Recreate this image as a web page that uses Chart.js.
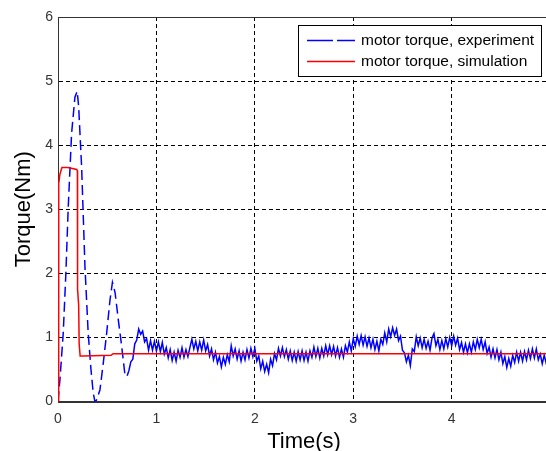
<!DOCTYPE html>
<html>
<head>
<meta charset="utf-8">
<script src="https://cdn.jsdelivr.net/npm/chart.js@4.4.0/dist/chart.umd.min.js"></script>
<style>
  html, body { margin: 0; padding: 0; background: #fff; overflow: hidden; width: 546px; height: 451px; }
  #wrap { width: 563px; height: 451px; }
  canvas { display: block; }
</style>
</head>
<body>
<div id="wrap"><canvas id="c" width="563" height="451"></canvas></div>
<script>
// ---- data ----
const xTicks = [0, 1, 2, 3, 4, 5];
const yTicks = [0, 1, 2, 3, 4, 5, 6];

// experiment: transient part (dashed)
const expTimeA = [0, 0.02, 0.053, 0.08, 0.104, 0.138, 0.172, 0.195, 0.21, 0.24, 0.274, 0.307, 0.335, 0.358, 0.375, 0.39, 0.426, 0.46, 0.494, 0.528, 0.553, 0.58, 0.613, 0.64, 0.663, 0.68, 0.70, 0.72];
const expTorqueA = [0, 0.35, 1.06, 2.0, 3.03, 4.18, 4.75, 4.84, 4.6, 3.66, 2.1, 1.06, 0.5, 0.13, 0, 0.02, 0.18, 0.6, 1.06, 1.58, 1.86, 1.7, 1.27, 0.95, 0.65, 0.42, 0.39, 0.48];

// experiment: noisy steady part, sampled every 0.02 s from t = 0.72 s
const expStartB = 0.72;
const expStepB = 0.02;
const expTorqueB = [
  0.48, 0.62, 0.66, 0.90, 0.96, 1.13, 1.05, 1.10, 0.93, 0.98,
  0.80, 0.95, 0.80, 0.94, 0.79, 0.93, 0.78, 0.92, 0.74, 0.84,
  0.68, 0.81, 0.64, 0.77, 0.63, 0.80, 0.69, 0.84, 0.69, 0.81,
  0.70, 0.84, 0.97, 0.82, 0.94, 0.79, 0.93, 0.80, 0.96, 0.79,
  0.89, 0.71, 0.82, 0.65, 0.77, 0.60, 0.70, 0.54, 0.69, 0.58,
  0.73, 0.62, 0.87, 0.71, 0.82, 0.66, 0.79, 0.63, 0.77, 0.65,
  0.81, 0.68, 0.83, 0.70, 0.83, 0.63, 0.71, 0.51, 0.63, 0.47,
  0.58, 0.45, 0.66, 0.56, 0.75, 0.65, 0.83, 0.71, 0.84, 0.70,
  0.81, 0.66, 0.79, 0.64, 0.77, 0.63, 0.78, 0.65, 0.79, 0.64,
  0.77, 0.63, 0.79, 0.69, 0.85, 0.70, 0.83, 0.68, 0.83, 0.71,
  0.87, 0.73, 0.87, 0.73, 0.86, 0.71, 0.84, 0.69, 0.82, 0.69,
  0.87, 0.77, 0.93, 0.79, 0.98, 0.86, 1.02, 0.89, 1.03, 0.88,
  1.01, 0.86, 0.99, 0.84, 0.97, 0.81, 0.94, 0.79, 0.97, 0.89,
  1.07, 0.93, 1.13, 1.01, 1.15, 1.03, 1.13, 0.95, 1.02, 0.80,
  0.76, 0.62, 0.72, 0.56, 0.82, 0.78, 1.01, 0.87, 0.99, 0.84,
  0.97, 0.83, 0.94, 0.80, 0.99, 1.06, 0.87, 0.97, 0.81, 0.95,
  0.82, 0.98, 0.85, 1.00, 0.87, 1.02, 0.88, 0.99, 0.81, 0.92,
  0.77, 0.90, 0.76, 0.90, 0.77, 0.93, 0.81, 0.97, 0.84, 0.97,
  0.81, 0.93, 0.75, 0.85, 0.69, 0.82, 0.68, 0.81, 0.65, 0.77,
  0.59, 0.70, 0.53, 0.67, 0.55, 0.72, 0.61, 0.77, 0.63, 0.77,
  0.63, 0.78, 0.65, 0.80, 0.67, 0.82, 0.68, 0.82, 0.65, 0.74,
  0.59, 0.72, 0.60, 0.73, 0.62
];

// simulation
const simTime = [0, 0.004, 0.01, 0.02, 0.04, 0.10, 0.19, 0.197, 0.199, 0.21, 0.215, 0.225, 0.26, 0.54, 0.56, 5.0];
const simTorque = [0, 3.0, 3.4, 3.55, 3.65, 3.65, 3.62, 3.60, 1.75, 1.5, 0.9, 0.71, 0.71, 0.72, 0.745, 0.745];

const labels = ['motor torque, experiment', 'motor torque, simulation'];

// ---- build datasets ----
const ptsA = expTimeA.map((t, i) => ({ x: t, y: expTorqueA[i] }));
const ptsB = expTorqueB.map((v, i) => ({ x: +(expStartB + i * expStepB).toFixed(3), y: v }));
const ptsSim = simTime.map((t, i) => ({ x: t, y: simTorque[i] }));

const BLUE = '#0000ff';
const RED = '#ff0000';
const FONT = '"Liberation Sans", Arial, sans-serif';

const framePlugin = {
  id: 'frame',
  beforeDatasetsDraw(chart) {
    const { ctx, chartArea: a } = chart;
    ctx.save();
    ctx.strokeStyle = '#333';
    ctx.lineWidth = 1;
    ctx.setLineDash([]);
    ctx.strokeRect(Math.round(a.left) + 0.5, Math.round(a.top) + 0.5, Math.round(a.right - a.left), Math.round(a.bottom - a.top));
    ctx.restore();
  },
  afterDraw(chart) {
    const { ctx } = chart;
    ctx.save();
    const lx = 298.5, ly = 25.5, lw = 243, lh = 51;
    ctx.fillStyle = '#fff';
    ctx.fillRect(lx, ly, lw, lh);
    ctx.strokeStyle = '#000';
    ctx.lineWidth = 1;
    ctx.strokeRect(lx, ly, lw, lh);
    ctx.lineWidth = 1.5;
    ctx.strokeStyle = BLUE;
    ctx.beginPath();
    ctx.moveTo(307, 40.5); ctx.lineTo(333, 40.5);
    ctx.moveTo(337, 40.5); ctx.lineTo(355, 40.5);
    ctx.stroke();
    ctx.strokeStyle = RED;
    ctx.beginPath();
    ctx.moveTo(307, 61.5); ctx.lineTo(355, 61.5);
    ctx.stroke();
    ctx.fillStyle = '#000';
    ctx.font = '15.5px ' + FONT;
    ctx.textBaseline = 'middle';
    ctx.textAlign = 'left';
    ctx.fillText(labels[0], 361, 40.5);
    ctx.fillText(labels[1], 361, 61.5);
    ctx.restore();
  }
};

new Chart(document.getElementById('c'), {
  type: 'line',
  data: {
    datasets: [
      { label: labels[1], data: ptsSim, borderColor: RED, borderWidth: 1.5, pointRadius: 0, tension: 0, order: 0 },
      { label: labels[0], data: ptsA, borderColor: BLUE, borderWidth: 1.5, borderDash: [10, 5], pointRadius: 0, tension: 0, order: 1 },
      { label: '', data: ptsB, borderColor: BLUE, borderWidth: 1.5, pointRadius: 0, tension: 0, order: 2 }
    ]
  },
  options: {
    responsive: false,
    animation: false,
    devicePixelRatio: 1,
    layout: { padding: { left: 0, top: 17, right: 6, bottom: 0 } },
    plugins: { legend: { display: false }, tooltip: { enabled: false } },
    scales: {
      x: {
        type: 'linear', min: 0, max: 5,
        afterBuildTicks(s) { s.ticks = xTicks.map(v => ({ value: v })); },
        afterFit(s) { s.height = 49.5; },
        grid: { color: '#000', lineWidth: 1, drawTicks: false },
        border: { display: true, color: '#333', dash: [4, 3] },
        ticks: { color: '#333', font: { family: FONT, size: 14 }, padding: 9, maxRotation: 0 },
        title: { display: true, text: 'Time(s)', color: '#000', font: { family: FONT, size: 22, lineHeight: 0.8 }, padding: { top: 0, bottom: 0 } }
      },
      y: {
        min: 0, max: 6,
        afterBuildTicks(s) { s.ticks = yTicks.map(v => ({ value: v })); },
        afterFit(s) { s.width = 58; },
        grid: { color: '#000', lineWidth: 1, drawTicks: false },
        border: { display: true, color: '#333', dash: [4, 3] },
        ticks: { color: '#333', font: { family: FONT, size: 14 }, padding: 5 },
        title: { display: true, text: 'Torque(Nm)', color: '#000', font: { family: FONT, size: 22, lineHeight: 1 }, padding: { top: 13, bottom: 0 } }
      }
    }
  },
  plugins: [framePlugin]
});
</script>
</body>
</html>
